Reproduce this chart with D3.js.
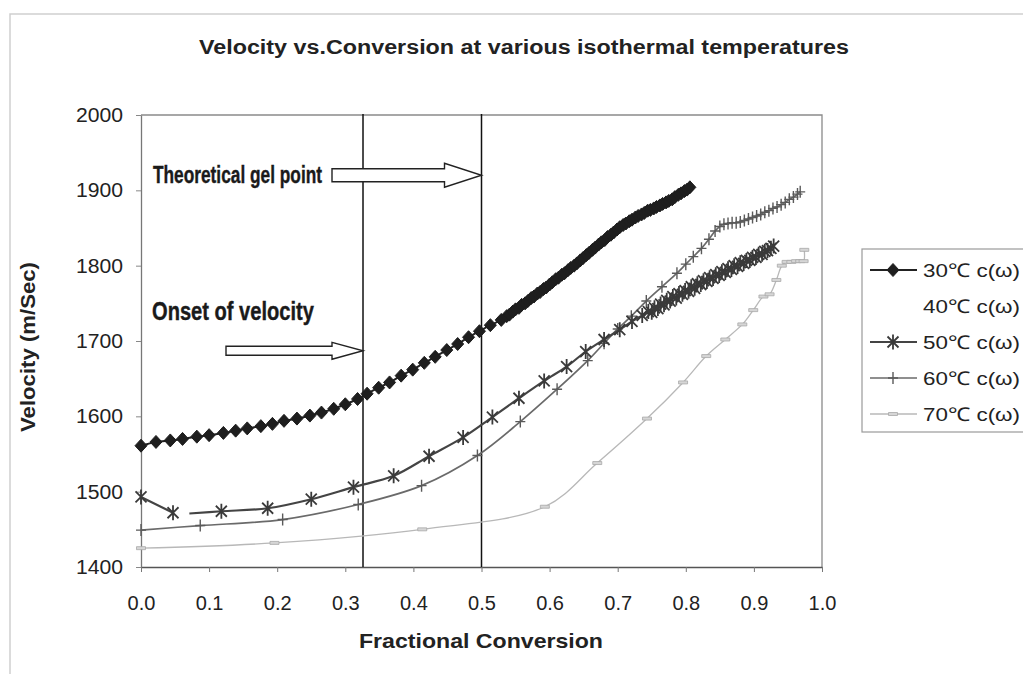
<!DOCTYPE html>
<html><head><meta charset="utf-8">
<script src="https://cdn.jsdelivr.net/npm/d3@7"></script>
<style>
body{margin:0;background:#fff;}
svg{display:block;font-family:"Liberation Sans",Arial,sans-serif;}
</style>
</head><body>
<svg id="c" width="1023" height="674"></svg>
<script>
// ---------- data ----------
const titleText = "Velocity vs.Conversion at various isothermal temperatures";
const xTitle = "Fractional Conversion";
const yTitle = "Velocity (m/Sec)";
const xTicks = [0.0,0.1,0.2,0.3,0.4,0.5,0.6,0.7,0.8,0.9,1.0];
const yTicks = [1400,1500,1600,1700,1800,1900,2000];
const seriesNames = ["30\u2103 c(\u03c9)","40\u2103 c(\u03c9)","50\u2103 c(\u03c9)","60\u2103 c(\u03c9)","70\u2103 c(\u03c9)"];

const c30x = [0,0.022,0.043,0.061,0.082,0.100,0.121,0.139,0.156,0.176,0.193,0.210,0.229,0.248,0.265,0.283,0.300,0.318,0.332,0.349,0.365,0.382,0.399,0.416,0.432,0.449,0.465,0.481,0.497,0.513,0.529,
  0.537,0.541,0.546,0.550,0.555,0.559,0.564,0.568,0.573,0.577,0.582,0.586,0.591,0.595,0.600,0.604,0.609,0.613,0.618,0.622,0.627,0.631,0.636,0.640,0.645,0.649,0.654,0.658,0.663,0.667,0.672,0.676,0.681,0.685,0.690,0.694,0.699,0.703,0.708,0.712,0.717,0.721,0.726,0.730,0.735,0.739,0.744,0.748,0.753,0.757,0.762,0.766,0.771,0.775,0.780,0.784,0.789,0.793,0.798,0.802,0.806];
const c30v = [1561,1566,1568,1570,1573,1575,1578,1581,1584,1587,1590,1594,1597,1601,1605,1610,1616,1623,1630,1638,1645,1654,1662,1671,1679,1688,1696,1705,1713,1721,1728,
  1733,1735,1739,1742,1744,1748,1750,1753,1757,1759,1763,1765,1769,1771,1775,1778,1782,1784,1788,1790,1794,1797,1800,1803,1807,1810,1814,1817,1821,1824,1828,1831,1834,1838,1841,1844,1848,1851,1854,1856,1859,1861,1864,1866,1868,1870,1873,1874,1876,1878,1880,1882,1884,1886,1888,1891,1894,1896,1899,1901,1904];

const c50x = [0,0.047,0.059,0.071,0.118,0.186,0.250,0.312,0.371,0.423,0.473,0.516,0.555,0.592,0.625,0.653,0.680,0.703,0.721,0.736,
  0.745,0.750,0.754,0.759,0.763,0.768,0.772,0.777,0.781,0.786,0.790,0.795,0.799,0.804,0.808,0.813,0.817,0.822,0.826,0.831,0.835,0.840,0.844,0.849,0.853,0.858,0.862,0.867,0.871,0.876,0.880,0.885,0.889,0.894,0.898,0.903,0.907,0.912,0.916,0.920,0.925,0.929];
const c50v = [1493,1472,null,1471,1474,1478,1490,1506,1521,1547,1572,1599,1624,1647,1666,1686,1702,1715,1726,1734,
  1739,1738,1744,1743,1749,1748,1754,1753,1759,1757,1763,1762,1767,1766,1772,1770,1776,1775,1780,1779,1784,1783,1788,1787,1792,1791,1796,1795,1800,1799,1804,1803,1807,1807,1811,1811,1815,1815,1819,1820,1823,1826];
const c50markerless = [0.071];

const c60x = [0,0.087,0.208,0.319,0.412,0.494,0.557,0.611,0.656,0.680,0.700,0.720,0.742,0.765,0.787,0.800,0.811,0.823,0.834,0.843,0.850,0.856,0.862,0.868,0.874,0.880,0.886,0.892,0.898,0.904,0.910,0.916,0.922,0.928,0.934,0.940,0.946,0.952,0.958,0.964,0.968];
const c60v = [1449,1455,1463,1483,1508,1548,1593,1636,1674,1697,1716,1733,1753,1772,1790,1802,1812,1823,1835,1846,1852,1855,1856,1857,1857,1858,1860,1862,1864,1866,1868,1871,1873,1876,1878,1881,1884,1888,1891,1895,1898];

const c70x = [0,0.196,0.413,0.593,0.670,0.743,0.796,0.830,0.858,0.883,0.899,0.914,0.923,0.933,0.941,0.948,0.955,0.962,0.968,0.973,0.974];
const c70v = [1425,1432,1450,1480,1538,1597,1645,1680,1702,1722,1741,1759,1762,1781,1800,1805,1805,1806,1806,1806,1821];

const markerLines = [0.326, 0.5];           // onset, gel point (fractional conversion)
const annotTexts = ["Theoretical gel point","Onset of velocity"];
const annotLevels = [1920, 1687];            // velocity level of arrow tips

// ---------- drawing ----------
const svg = d3.select("#c");
const x = d3.scaleLinear([0,1],[141,822]);
const y = d3.scaleLinear([1400,2000],[567,115]);

// outer chart border
svg.append("path").attr("d","M10,674V14H1023").attr("fill","none").attr("stroke","#cfcfcf").attr("stroke-width",1.5);

// plot frame (top/right)
svg.append("path").attr("d",`M${x(0)},${y(2000)}H${x(1)}V${y(1400)}`).attr("fill","none").attr("stroke","#8a8a8a").attr("stroke-width",1.3);

// axes
const gx = svg.append("g").attr("transform",`translate(0,${y(1400)})`)
  .call(d3.axisBottom(x).tickValues(xTicks).tickFormat(d3.format(".1f")).tickSizeInner(5).tickSizeOuter(0).tickPadding(24));
gx.select(".domain").attr("stroke","#555").attr("stroke-width",1.6);
gx.selectAll(".tick line").attr("stroke","#777");
gx.selectAll("text").attr("font-size",20).attr("fill","#222").attr("font-family","Liberation Sans, Arial, sans-serif");

const gy = svg.append("g").attr("transform",`translate(${x(0)},0)`)
  .call(d3.axisLeft(y).tickValues(yTicks).tickFormat(d3.format("d")).tickSizeInner(5).tickSizeOuter(0).tickPadding(13));
gy.select(".domain").attr("stroke","#777").attr("stroke-width",1.3);
gy.selectAll(".tick line").attr("stroke","#888");
gy.selectAll("text").attr("font-size",20).attr("fill","#222").attr("font-family","Liberation Sans, Arial, sans-serif")
  .attr("textLength",47).attr("lengthAdjust","spacingAndGlyphs");

// vertical reference lines
svg.selectAll("line.ref").data(markerLines).join("line").attr("class","ref")
  .attr("x1",d=>x(d)).attr("x2",d=>x(d)).attr("y1",y(2000)-1).attr("y2",y(1400))
  .attr("stroke","#111").attr("stroke-width",1.5);

// helpers
const toPts = (xs,vs)=>xs.map((d,i)=>({x:d,v:vs[i]}));
const lineGen = d3.line().defined(d=>d.v!==null).x(d=>x(d.x)).y(d=>y(d.v)).curve(d3.curveCatmullRom.alpha(0.5));

const diamond = "M0,-6.5L6,0L0,6.5L-6,0Z";
const star = "M-5.5,-5.5L5.5,5.5M-5.5,5.5L5.5,-5.5M0,-7.5L0,7.5";
const plus = "M-5,0L5,0M0,-6L0,6";
const dash = "M-4.5,-1.5H4.5V1.5H-4.5Z";

const series = [
  {pts:toPts(c70x,c70v), stroke:"#b8b8b8", sw:1.3, marker:dash, mfill:"#d6d6d6", mstroke:"#a8a8a8", msw:0.8},
  {pts:toPts(c60x,c60v), stroke:"#6a6a6a", sw:1.7, marker:plus, mfill:"none", mstroke:"#5a5a5a", msw:1.4},
  {pts:toPts(c50x,c50v), stroke:"#444", sw:2.2, marker:star, mfill:"none", mstroke:"#3a3a3a", msw:1.8, skip:c50markerless},
  {pts:toPts(c30x,c30v), stroke:"#222", sw:2, marker:diamond, mfill:"#1e1e1e", mstroke:"#1e1e1e", msw:1}
];

series.forEach(s=>{
  svg.append("path").datum(s.pts).attr("d",lineGen).attr("fill","none")
    .attr("stroke",s.stroke).attr("stroke-width",s.sw);
  svg.append("g").selectAll("path").data(s.pts.filter(d=>d.v!==null && !(s.skip||[]).includes(d.x))).join("path")
    .attr("transform",d=>`translate(${x(d.x)},${y(d.v)})`).attr("d",s.marker)
    .attr("fill",s.mfill).attr("stroke",s.mstroke).attr("stroke-width",s.msw);
});

// annotations (arrows + text)
function arrow(x0,x1,yc,bodyH,headH,headL){
  const xh = x1-headL;
  return `M${x0},${yc-bodyH/2}H${xh}V${yc-headH/2}L${x1},${yc}L${xh},${yc+headH/2}V${yc+bodyH/2}H${x0}Z`;
}
svg.append("path").attr("d",arrow(332,x(markerLines[1]),y(annotLevels[0]),13,24,37))
  .attr("fill","#fff").attr("stroke","#222").attr("stroke-width",1.4);
svg.append("path").attr("d",arrow(226,x(markerLines[0]),y(annotLevels[1]),9,17,31))
  .attr("fill","#fff").attr("stroke","#222").attr("stroke-width",1.4);

svg.append("text").attr("x",153).attr("y",183).text(annotTexts[0])
  .attr("font-size",24).attr("font-weight","bold").attr("fill","#1a1a1a")
  .attr("stroke","#1a1a1a").attr("stroke-width",0.4)
  .attr("textLength",169).attr("lengthAdjust","spacingAndGlyphs");
svg.append("text").attr("x",152).attr("y",320).text(annotTexts[1])
  .attr("font-size",25).attr("font-weight","bold").attr("fill","#1a1a1a")
  .attr("stroke","#1a1a1a").attr("stroke-width",0.4)
  .attr("textLength",162).attr("lengthAdjust","spacingAndGlyphs");

// titles
svg.append("text").attr("x",199).attr("y",54).text(titleText)
  .attr("font-size",20).attr("font-weight","bold").attr("fill","#222")
  .attr("textLength",650).attr("lengthAdjust","spacingAndGlyphs");
svg.append("text").attr("x",359).attr("y",648).text(xTitle)
  .attr("font-size",21).attr("font-weight","bold").attr("fill","#222")
  .attr("textLength",244).attr("lengthAdjust","spacingAndGlyphs");
svg.append("text").attr("transform","translate(35,432) rotate(-90)").text(yTitle)
  .attr("font-size",20).attr("font-weight","bold").attr("fill","#222")
  .attr("textLength",170).attr("lengthAdjust","spacingAndGlyphs");

// legend
svg.append("rect").attr("x",862).attr("y",249).attr("width",200).attr("height",183)
  .attr("fill","#fff").attr("stroke","#9a9a9a").attr("stroke-width",1.2);
const legStyles = [
  {stroke:"#222", sw:2, marker:diamond, mfill:"#1e1e1e", mstroke:"#1e1e1e", msw:1},
  null,
  {stroke:"#444", sw:2.2, marker:star, mfill:"none", mstroke:"#3a3a3a", msw:1.8},
  {stroke:"#6a6a6a", sw:1.7, marker:plus, mfill:"none", mstroke:"#5a5a5a", msw:1.4},
  {stroke:"#b8b8b8", sw:1.3, marker:dash, mfill:"#d6d6d6", mstroke:"#a8a8a8", msw:0.8}
];
const legY = d3.scalePoint().domain(seriesNames).range([270,414]);
seriesNames.forEach((n,i)=>{
  const yy = legY(n), st = legStyles[i];
  if(st){
    svg.append("line").attr("x1",870).attr("x2",917).attr("y1",yy).attr("y2",yy)
      .attr("stroke",st.stroke).attr("stroke-width",st.sw);
    svg.append("path").attr("transform",`translate(893,${yy})`).attr("d",st.marker)
      .attr("fill",st.mfill).attr("stroke",st.mstroke).attr("stroke-width",st.msw);
  }
  svg.append("text").attr("x",923).attr("y",yy+7).text(n)
    .attr("font-size",19).attr("fill","#222")
    .attr("textLength",97).attr("lengthAdjust","spacingAndGlyphs");
});
</script>
</body></html>
